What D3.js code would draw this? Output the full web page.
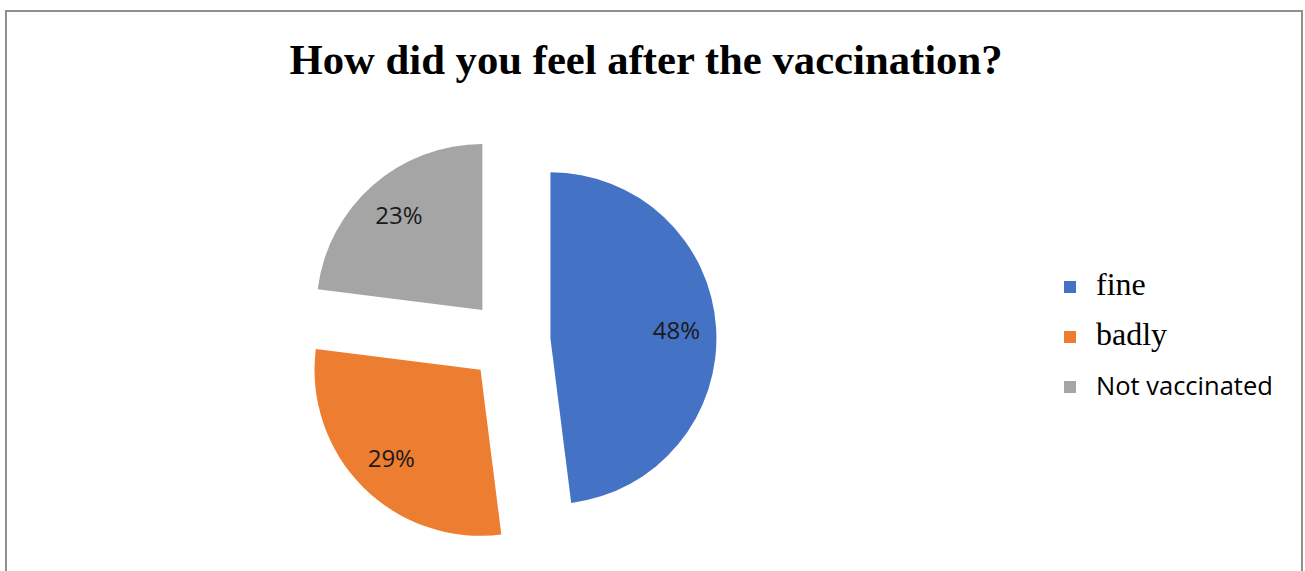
<!DOCTYPE html>
<html>
<head>
<meta charset="utf-8">
<script src="https://cdn.jsdelivr.net/npm/d3@7"></script>
<style>
  html, body { margin: 0; padding: 0; background: #ffffff; }
  svg { display: block; }
</style>
</head>
<body>
<svg id="chart" width="1305" height="571"></svg>
<script>
// Survey answers: share of respondents per answer
const categories = ["fine", "badly", "Not vaccinated"];
const values = [48, 29, 23];
const labels = ["48%", "29%", "23%"];
const colors = ["#4472C4", "#ED7D31", "#A5A5A5"];
const legendFonts = ["'Liberation Serif', 'Times New Roman', serif",
                     "'Liberation Serif', 'Times New Roman', serif",
                     "'Open Sans', sans-serif"];
const legendSizes = [32, 32, 25.5];
const title = "How did you feel after the vaccination?";

const svg = d3.select("#chart");

// chart frame (bottom edge runs past the visible area)
svg.append("rect")
  .attr("x", 6).attr("y", 11)
  .attr("width", 1296).attr("height", 600)
  .attr("fill", "#ffffff")
  .attr("stroke", "#8f8f8f")
  .attr("stroke-width", 2);

svg.append("text")
  .attr("x", 646).attr("y", 74)
  .attr("text-anchor", "middle")
  .attr("font-family", "'Liberation Serif', 'Times New Roman', serif")
  .attr("font-weight", "bold")
  .attr("font-size", 42.7)
  .attr("fill", "#000000")
  .text(title);

// exploded pie
const cx = 509.5, cy = 340.8, r = 166, explode = 41;
const pie = d3.pie().sort(null).value(d => d)(values);
const arc = d3.arc().innerRadius(0).outerRadius(r);

const g = svg.append("g").attr("transform", `translate(${cx},${cy})`);
const slices = g.selectAll("g.slice")
  .data(pie)
  .enter().append("g")
  .attr("class", "slice")
  .attr("transform", d => {
    const a = (d.startAngle + d.endAngle) / 2;
    return `translate(${explode * Math.sin(a)},${-explode * Math.cos(a)})`;
  });

slices.append("path")
  .attr("d", arc)
  .attr("fill", (d, i) => colors[i]);

const labelArc = d3.arc().innerRadius(r * 0.76).outerRadius(r * 0.76);
slices.append("text")
  .attr("transform", d => `translate(${labelArc.centroid(d)})`)
  .attr("text-anchor", "middle")
  .attr("dy", "0.35em")
  .attr("font-family", "'Open Sans', sans-serif")
  .attr("font-size", 24)
  .attr("fill", "#1a1a1a")
  .text((d, i) => labels[i]);

// legend
const legend = svg.append("g").attr("transform", "translate(1064,287)");
const items = legend.selectAll("g")
  .data(categories)
  .enter().append("g")
  .attr("transform", (d, i) => `translate(0,${i * 50})`);

items.append("rect")
  .attr("x", 0).attr("y", -6)
  .attr("width", 12).attr("height", 12)
  .attr("fill", (d, i) => colors[i]);

items.append("text")
  .attr("x", 32).attr("y", 8)
  .attr("font-family", (d, i) => legendFonts[i])
  .attr("font-size", (d, i) => legendSizes[i])
  .attr("fill", "#000000")
  .text(d => d);
</script>
</body>
</html>
